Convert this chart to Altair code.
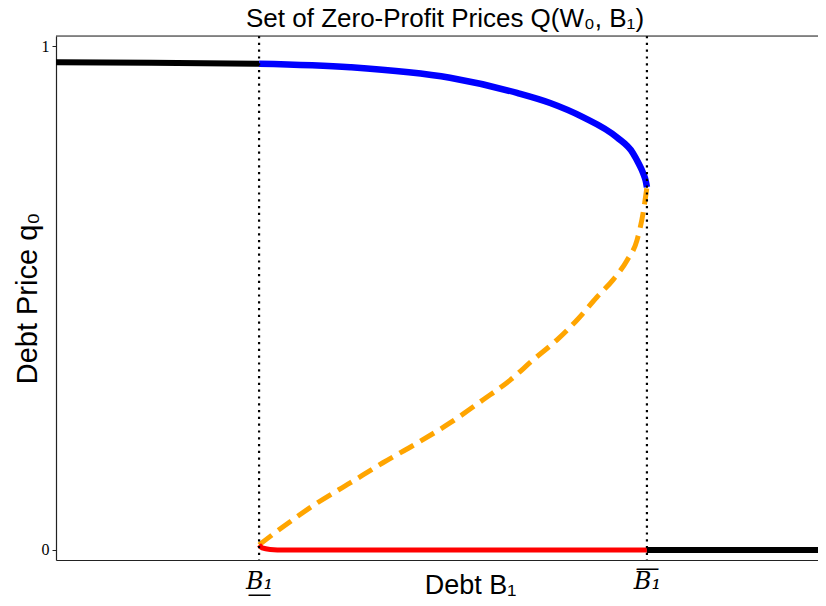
import altair as alt
import pandas as pd

# Thresholds on the debt axis
B_LO = 0.533
B_HI = 1.551
X_MAX = 2.0

# Black segment (unique safe price, low debt)
top_x = [0.0, 0.25, 0.533]
top_q = [0.968, 0.967, 0.965]

# Blue: high-price branch
blue_x = [0.533, 0.772, 1.034, 1.210, 1.297, 1.383, 1.472, 1.514, 1.530, 1.541, 1.548, 1.551]
blue_q = [0.965, 0.958, 0.937, 0.907, 0.887, 0.859, 0.819, 0.788, 0.766, 0.748, 0.732, 0.720]

# Orange dashed: middle (unstable) branch
orange_x = [1.551, 1.541, 1.525, 1.499, 1.462, 1.420, 1.367, 1.315, 1.252, 1.192,
            1.121, 1.034, 0.948, 0.858, 0.772, 0.685, 0.596, 0.533]
orange_q = [0.720, 0.669, 0.615, 0.575, 0.536, 0.502, 0.456, 0.417, 0.377, 0.337,
            0.298, 0.252, 0.212, 0.173, 0.133, 0.093, 0.046, 0.010]

# Red: default branch
red_x = [0.533, 0.541, 0.562, 0.600, 0.700, 1.551]
red_q = [0.010, 0.004, 0.001, 0.0, 0.0, 0.0]

# Black segment (zero price, high debt)
bot_x = [1.551, 2.0]
bot_q = [0.0, 0.0]

tick_vals = [B_LO, B_HI]

def df(xs, qs):
    return pd.DataFrame({"B": xs, "q": qs})

xs = alt.Scale(domain=[0, X_MAX], nice=False, zero=False)
ys = alt.Scale(domain=[-0.02, 1.02], nice=False, zero=False)

xenc = alt.X("B:Q", scale=xs, title="Debt B₁",
             axis=alt.Axis(values=tick_vals, grid=False, ticks=False,
                           labelExpr="datum.value < 1 ? [' ', 'B₁', '—'] : ['—', 'B₁', ' ']",
                           labelFont="DejaVu Serif", labelFontSize=24,
                           labelFontStyle="italic", labelPadding=15,
                           labelBaseline="alphabetic", labelLineHeight=13,
                           labelColor="black",
                           domainColor="#222", domainWidth=1.2,
                           titleFont="Liberation Sans", titleFontSize=27,
                           titleFontWeight="normal", titleColor="black",
                           titleX=414, titleY=33, titleBaseline="alphabetic",
                           titleAlign="center"))
yenc = alt.Y("q:Q", scale=ys, title="Debt Price q₀",
             axis=alt.Axis(values=[0, 1], format="d", grid=False, tickSize=4,
                           tickColor="#222", labelFont="Liberation Serif",
                           labelFontSize=16, labelColor="black", labelPadding=3,
                           domainColor="#222", domainWidth=1.2,
                           titleFont="Liberation Sans", titleFontSize=29,
                           titleFontWeight="normal", titleColor="black",
                           titleX=-29, titleY=262, titleBaseline="middle",
                           titleAlign="center", titleAngle=270))

def line(d, color, width, dash=None):
    kw = dict(color=color, strokeWidth=width, clip=True, interpolate="monotone")
    if dash is not None:
        kw["strokeDash"] = dash
    return alt.Chart(d).mark_line(**kw).encode(x=xenc, y=yenc)

top_l = line(df(top_x, top_q), "black", 6)
blue_l = line(df(blue_x, blue_q), "blue", 6.5)
orange_l = line(df(orange_x, orange_q), "orange", 5, [16, 8])
red_l = line(df(red_x, red_q), "red", 5)
bot_l = line(df(bot_x, bot_q), "black", 6)

vlines = alt.Chart(pd.DataFrame({"B": tick_vals})).mark_rule(
    color="black", strokeWidth=2.2, strokeDash=[2.2, 4.6]
).encode(x=alt.X("B:Q", scale=xs))

top_spine = alt.Chart(pd.DataFrame({"a": [0]})).mark_rule(
    color="#222", strokeWidth=1.2
).encode(y=alt.value(0))

chart = alt.layer(top_l, blue_l, orange_l, red_l, bot_l, vlines, top_spine).properties(
    width=762, height=524,
    padding={"left": 48, "top": 28, "right": 0, "bottom": 38},
    autosize="none",
    title=alt.TitleParams(text="Set of Zero-Profit Prices Q(W₀, B₁)",
                          font="Liberation Sans", fontSize=26,
                          fontWeight="normal", color="black",
                          offset=3, dx=8, anchor="middle"),
).configure_view(stroke=None).configure(background="white")

chart.save("out.html", embed_options={"renderer": "svg", "actions": False})
